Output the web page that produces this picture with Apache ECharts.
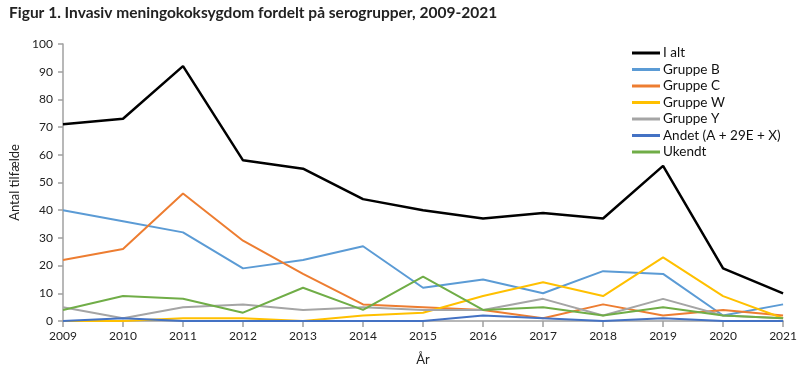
<!DOCTYPE html>
<html><head><meta charset="utf-8">
<script src="https://cdn.jsdelivr.net/npm/echarts@6/dist/echarts.min.js"></script>
<style>html,body{margin:0;padding:0;background:#fff}#c{width:800px;height:371px}</style>
</head><body><div id="c"></div>
<script>
var years = ['2009','2010','2011','2012','2013','2014','2015','2016','2017','2018','2019','2020','2021'];
var iAlt    = [71, 73, 92, 58, 55, 44, 40, 37, 39, 37, 56, 19, 10];
var gruppeB = [40, 36, 32, 19, 22, 27, 12, 15, 10, 18, 17, 2, 6];
var gruppeC = [22, 26, 46, 29, 17, 6, 5, 4, 1, 6, 2, 4, 2];
var gruppeW = [0, 0, 1, 1, 0, 2, 3, 9, 14, 9, 23, 9, 1];
var gruppeY = [5, 1, 5, 6, 4, 5, 4, 4, 8, 2, 8, 2, 1];
var andet   = [0, 1, 0, 0, 0, 0, 0, 2, 1, 0, 1, 0, 0];
var ukendt  = [4, 9, 8, 3, 12, 4, 16, 4, 5, 2, 5, 2, 1];
var names = ['I alt','Gruppe B','Gruppe C','Gruppe W','Gruppe Y','Andet (A + 29E + X)','Ukendt'];
var colors = ['#000000','#5B9BD5','#ED7D31','#FFC000','#A5A5A5','#4472C4','#70AD47'];
var datas = [iAlt, gruppeB, gruppeC, gruppeW, gruppeY, andet, ukendt];
var font = 'Lato';
var series = datas.map(function(d,i){
  return {name:names[i], type:'line', data:d, symbol:'none', smooth:false,
    lineStyle:{color:colors[i], width:i===0?2.5:2}, itemStyle:{color:colors[i]},
    z: i===0?10:2, animation:false};
});
var chart = echarts.init(document.getElementById('c'), null, {renderer:'canvas'});
chart.setOption({
  animation:false,
  textStyle:{fontFamily:font},
  title:{text:'Figur 1. Invasiv meningokoksygdom fordelt på serogrupper, 2009-2021', left:4, top:0,
    textStyle:{fontFamily:font, fontSize:15.5, fontWeight:'bold', color:'#222'}},
  grid:{left:56, right:16, top:44, bottom:50, containLabel:false},
  legend:{orient:'vertical', left:627, top:41, icon:'rect', itemWidth:28, itemHeight:3, itemGap:2.5,
    textStyle:{fontFamily:font, fontSize:13.5, lineHeight:13.5, color:'#111', padding:[0,0,0,-2]},
    data:names},
  xAxis:{type:'category', data:years, boundaryGap:false, name:'År', nameLocation:'middle', nameGap:32,
    nameTextStyle:{fontFamily:font, fontSize:13, color:'#222'},
    axisLine:{lineStyle:{color:'#A0A0A0', width:1.5}},
    axisTick:{show:true, alignWithLabel:true, length:6, lineStyle:{color:'#A0A0A0', width:1.5}},
    axisLabel:{fontFamily:font, fontSize:12, color:'#222', margin:9},
    splitLine:{show:false}},
  yAxis:{type:'value', min:0, max:100, interval:10, name:'Antal tilfælde', nameLocation:'middle', nameGap:42,
    nameTextStyle:{fontFamily:font, fontSize:13, color:'#222'},
    axisLine:{show:true, lineStyle:{color:'#A0A0A0', width:1.5}},
    axisTick:{show:true, length:5, lineStyle:{color:'#A0A0A0', width:1.5}},
    axisLabel:{fontFamily:font, fontSize:12, color:'#222', margin:10},
    splitLine:{show:false}},
  series:series
});
</script></body></html>
